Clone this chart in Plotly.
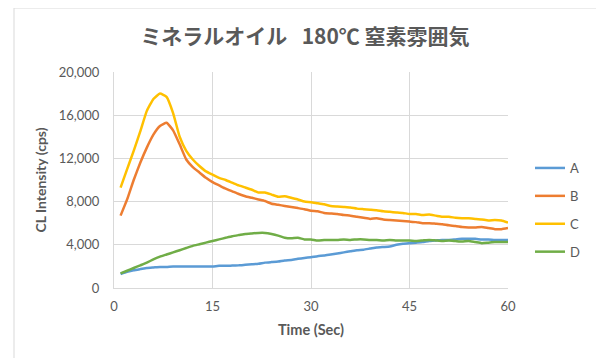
import plotly.graph_objects as go

time_sec = list(range(1, 61))

series_a = [1300, 1500, 1650, 1750, 1850, 1900, 1950, 1950, 2000, 1980,
            2000, 2000, 2000, 2000, 2000, 2050, 2050, 2080, 2100, 2150,
            2200, 2250, 2350, 2400, 2450, 2550, 2600, 2700, 2780, 2850,
            2950, 3000, 3100, 3200, 3300, 3400, 3500, 3550, 3650, 3750,
            3800, 3850, 4000, 4100, 4150, 4200, 4250, 4350, 4400, 4450,
            4450, 4500, 4550, 4550, 4550, 4500, 4500, 4450, 4450, 4450]

series_b = [6700, 8200, 10000, 11600, 13000, 14200, 15000, 15300, 14600, 13300,
            11900, 11200, 10700, 10200, 9800, 9500, 9200, 8950, 8700, 8500,
            8350, 8200, 8050, 7800, 7700, 7600, 7500, 7400, 7300, 7150,
            7100, 6950, 6900, 6850, 6750, 6700, 6600, 6500, 6400, 6450,
            6350, 6300, 6250, 6200, 6150, 6100, 6000, 6000, 5950, 5900,
            5800, 5750, 5650, 5600, 5600, 5650, 5550, 5450, 5450, 5550]

series_c = [9300, 11000, 12700, 14500, 16400, 17500, 18000, 17700, 16200, 14000,
            12700, 11900, 11300, 10800, 10500, 10200, 10000, 9750, 9500, 9300,
            9100, 8850, 8850, 8650, 8450, 8500, 8350, 8200, 8000, 7950,
            7850, 7750, 7600, 7550, 7500, 7450, 7350, 7300, 7250, 7200,
            7100, 7050, 7000, 6950, 6850, 6850, 6750, 6800, 6700, 6600,
            6600, 6500, 6450, 6450, 6400, 6350, 6250, 6300, 6250, 6050]

series_d = [1350, 1600, 1850, 2100, 2350, 2650, 2900, 3100, 3300, 3500,
            3700, 3900, 4050, 4200, 4350, 4500, 4650, 4800, 4900, 5000,
            5050, 5100, 5100, 5000, 4850, 4650, 4600, 4650, 4500, 4500,
            4400, 4450, 4450, 4450, 4500, 4450, 4500, 4500, 4450, 4450,
            4400, 4450, 4400, 4400, 4400, 4350, 4400, 4450, 4400, 4350,
            4400, 4350, 4300, 4350, 4250, 4150, 4200, 4250, 4250, 4250]

series_names = ["A", "B", "C", "D"]
series_values = [series_a, series_b, series_c, series_d]
series_colors = ["#5B9BD5", "#ED7D31", "#FFC000", "#70AD47"]

x_ticks = [0, 15, 30, 45, 60]
y_ticks = [0, 4000, 8000, 12000, 16000, 20000]

title_text = "ミネラルオイル   180℃ 窒素雰囲気"
x_title = "Time (Sec)"
y_title = "CL Intensity (cps)"

font_family = "Lato, 'Noto Sans CJK JP', sans-serif"
text_color = "#595959"
grid_color = "#D9D9D9"

# page body has an 8px default margin; figure is sized/margined to compensate
W, H = 596, 350
ML, MR, MT, MB = 106, 96, 64, 70
PW, PH = W - ML - MR, H - MT - MB

fig = go.Figure()
for name, vals, col in zip(series_names, series_values, series_colors):
    fig.add_trace(go.Scatter(
        x=time_sec, y=vals, name=name, mode="lines",
        line=dict(color=col, width=2.5, shape="spline", smoothing=0.4),
        legendgroup=name,
    ))

fig.update_layout(
    width=W, height=H,
    margin=dict(l=ML, r=MR, t=MT, b=MB),
    paper_bgcolor="white", plot_bgcolor="white",
    font=dict(family=font_family, color=text_color, size=13),
    title=dict(text="<b>" + title_text + "</b>", x=(305 - 8) / W,
               xanchor="center", y=1 - (37 - 8) / H, yanchor="middle",
               font=dict(family="'Noto Sans CJK JP', Lato, sans-serif",
                         size=21, color=text_color)),
    showlegend=True,
    legend=dict(x=(530 - 8 - ML) / PW, xanchor="left",
                y=1 - (210 - 8 - MT) / PH, yanchor="middle",
                font=dict(size=13, color=text_color),
                tracegroupgap=8, bgcolor="rgba(0,0,0,0)"),
    xaxis=dict(range=[0, 60], tickvals=x_ticks, showgrid=True,
               gridcolor=grid_color, gridwidth=1, showline=True,
               linecolor=grid_color, linewidth=1, zeroline=False,
               ticks="outside", ticklen=6, tickcolor="rgba(0,0,0,0)",
               tickfont=dict(size=13, color=text_color),
               title=dict(text="<b>" + x_title + "</b>", standoff=12,
                          font=dict(size=14.5, color=text_color))),
    yaxis=dict(range=[0, 20000], tickvals=y_ticks, tickformat=",d",
               showgrid=True, gridcolor=grid_color, gridwidth=1,
               showline=True, linecolor=grid_color, linewidth=1,
               zeroline=False, ticks="outside", ticklen=11,
               tickcolor="rgba(0,0,0,0)",
               tickfont=dict(size=13, color=text_color),
               title=dict(text="<b>" + y_title + "</b>", standoff=8,
                          font=dict(size=14, color=text_color))),
)

# outer chart border (Excel chart area), page coords shifted by 8px
fig.add_shape(type="rect", xref="paper", yref="paper",
              x0=(14 - 8 - ML) / PW, x1=(599 - 8 - ML) / PW,
              y0=1 - (362 - 8 - MT) / PH, y1=1 - (8 - 8 - MT) / PH,
              line=dict(color="#D9D9D9", width=1), fillcolor="rgba(0,0,0,0)",
              layer="below")

fig.write_html("out.html")
